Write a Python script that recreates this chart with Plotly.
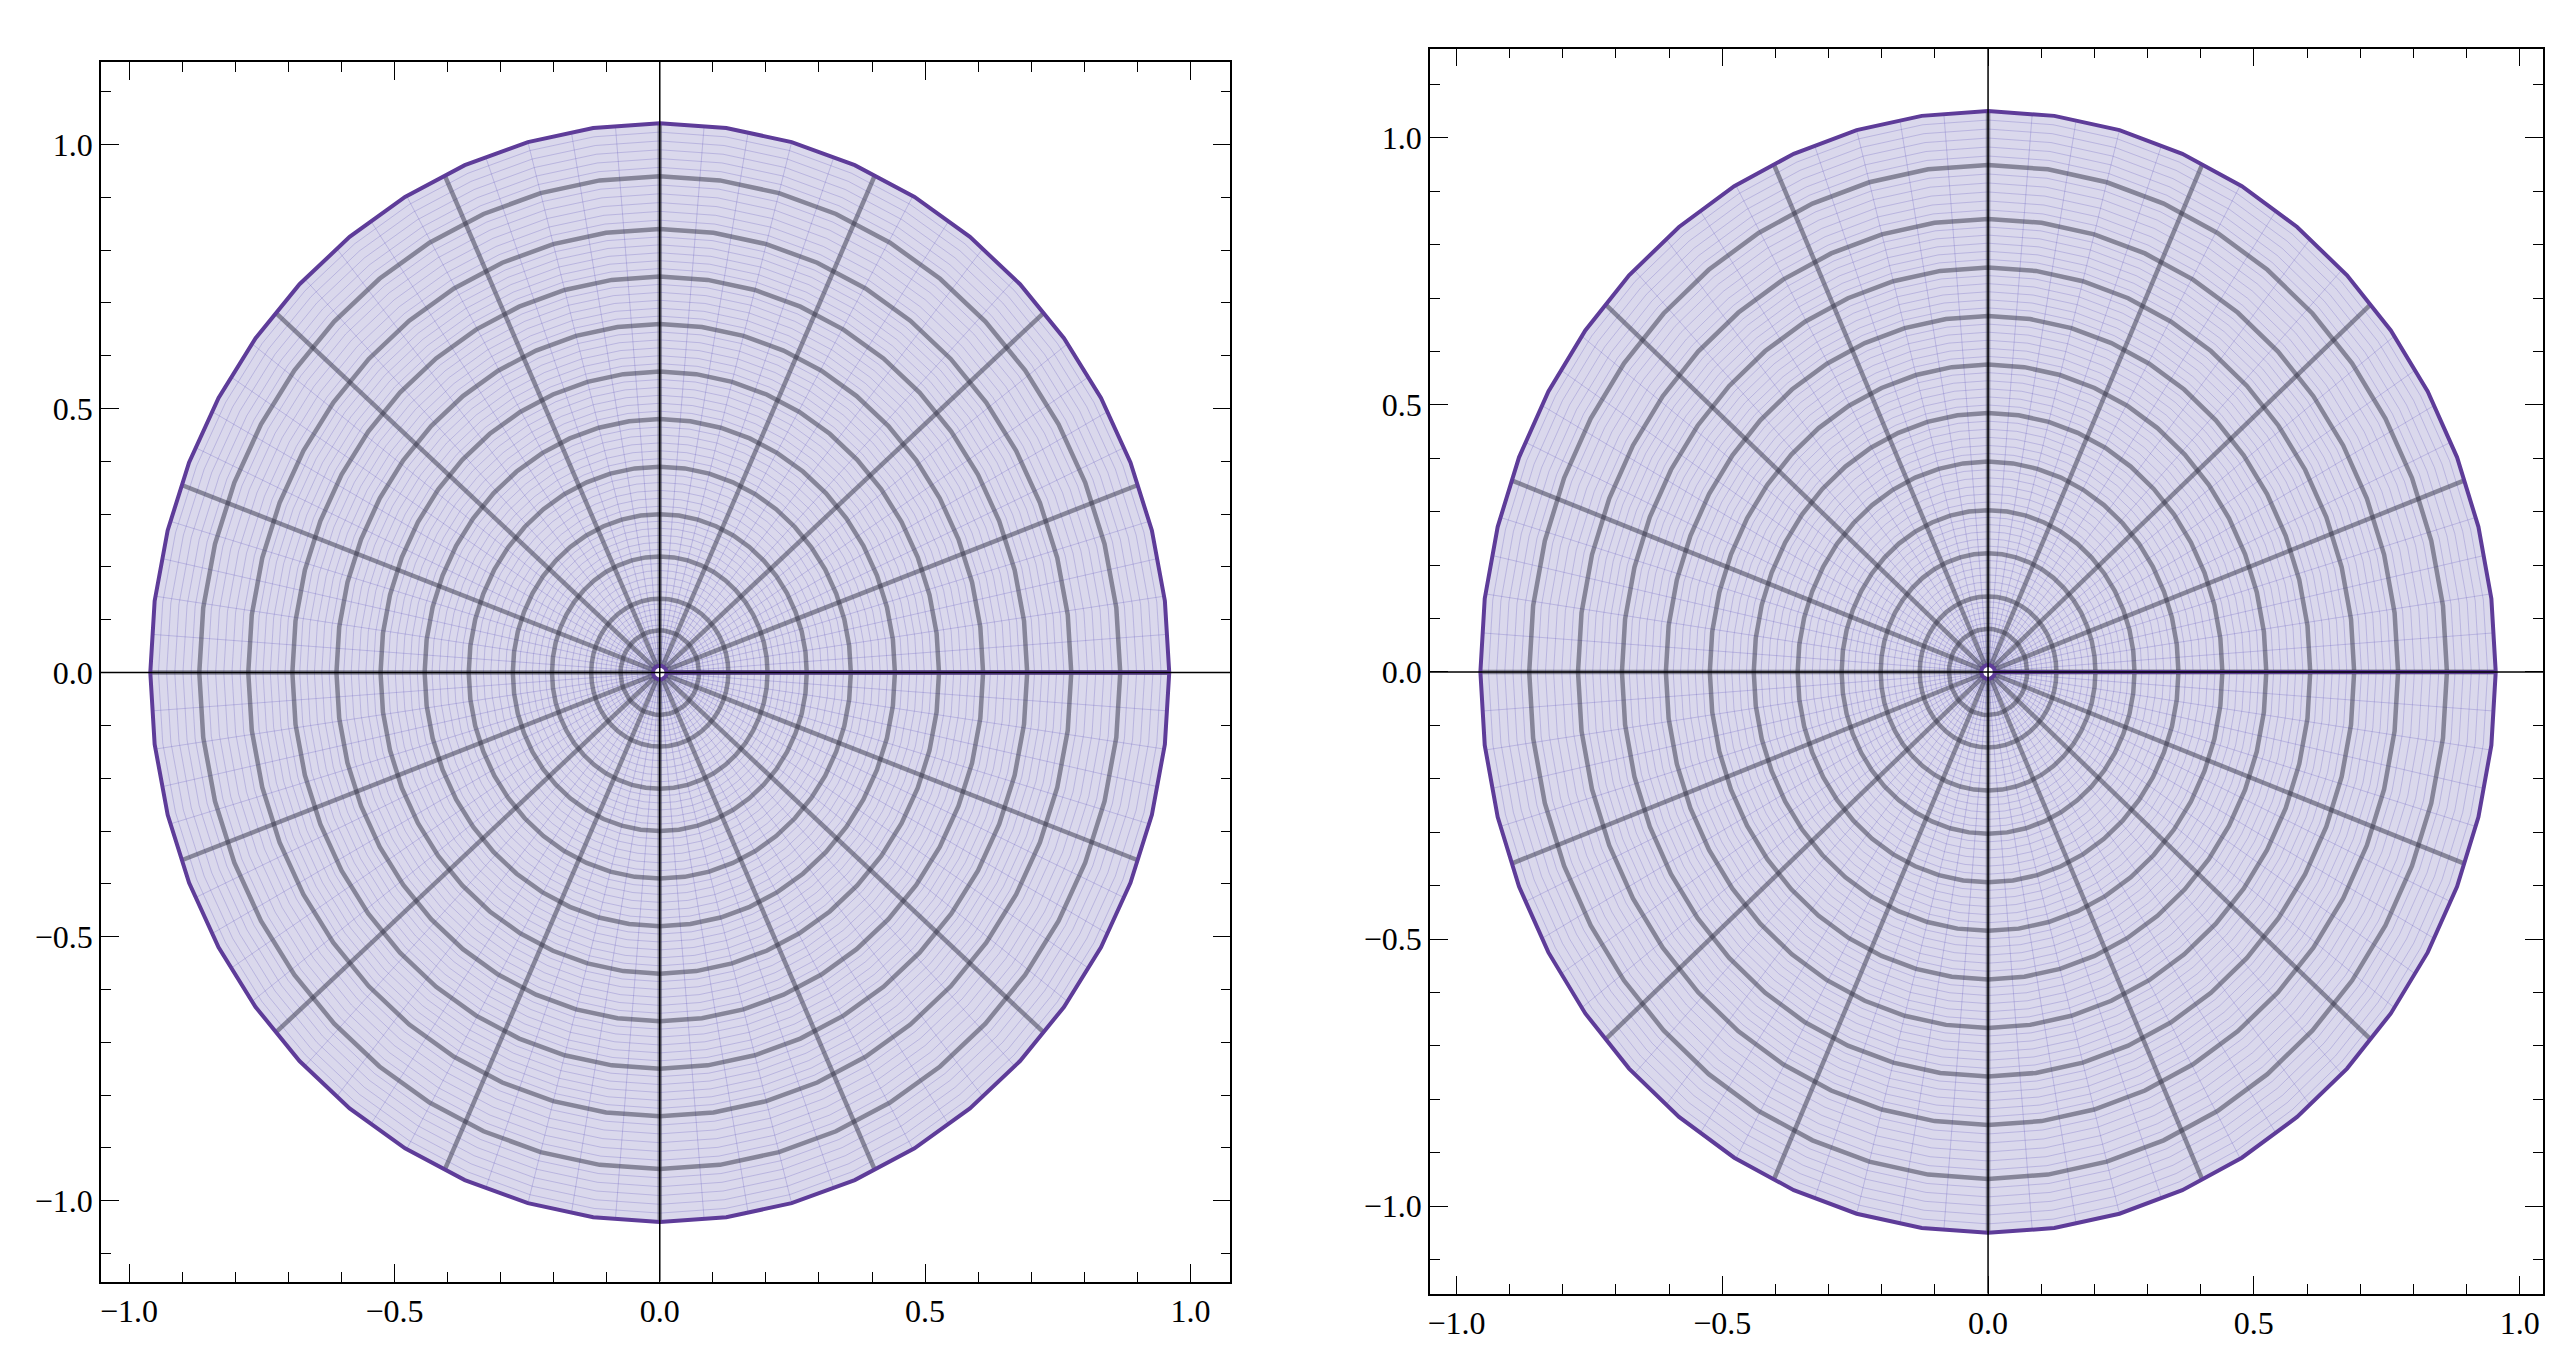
import numpy as np
import plotly.graph_objects as go

# Data
panels = ["left", "right"]
semi_x = [0.96, 0.955]          # horizontal half-extent of each disk
semi_y = [1.04, 1.05]           # vertical half-extent of each disk
thick_rings = [0.08, 0.14, 0.22, 0.30, 0.39, 0.48, 0.57, 0.66, 0.75, 0.84, 0.94]  # ring radii (y units, left panel)
quadrant_angles = [0, 20, 41, 65]   # thick radial directions within one quadrant (deg)
thick_angles_deg = sorted(set([q*90 + (a if q % 2 == 0 else 90 - a) for q in range(4) for a in quadrant_angles] +
                              [0, 90, 180, 270]))
x_ranges = [[-1.053, 1.075], [-1.05, 1.044]]
y_ranges = [[-1.153, 1.156], [-1.164, 1.167]]
tick_vals = [-1.0, -0.5, 0.0, 0.5, 1.0]
tick_text = ["\u22121.0", "\u22120.5", "0.0", "0.5", "1.0"]

fig = go.Figure()
PURPLE = "rgb(94,60,153)"
FILL = "rgb(218,216,236)"
THIN = "rgba(100,90,190,0.28)"
THICK = "rgba(50,50,70,0.5)"

def lines_xy(segs):
    xs, ys = [], []
    for sx, sy in segs:
        xs += list(sx) + [None]
        ys += list(sy) + [None]
    return xs, ys

# thin radials: 4 between each pair of thick radials
ta = thick_angles_deg + [360]
thin_angles_deg = []
for a, b in zip(ta[:-1], ta[1:]):
    for k in range(1, 5):
        thin_angles_deg.append(a + (b - a) * k / 5)

N = 48
for p in range(2):
    ax, ay = semi_x[p], semi_y[p]
    xa = "x" if p == 0 else "x2"
    ya = "y" if p == 0 else "y2"
    t = np.linspace(0, 2*np.pi, N+1)
    fig.add_trace(go.Scatter(x=ax*np.cos(t), y=ay*np.sin(t), fill="toself", fillcolor=FILL,
                             mode="none", xaxis=xa, yaxis=ya, hoverinfo="skip"))
    rfr = [r / semi_y[0] for r in thick_rings]
    all_r = [0.012] + rfr + [1.0]
    thin_r = []
    for a, b in zip(all_r[:-1], all_r[1:]):
        for k in range(1, 6):
            thin_r.append(a + (b - a) * k / 6)
    segs = [(ax*r*np.cos(t), ay*r*np.sin(t)) for r in thin_r]
    segs += [(ax*np.array([0.012, 1])*np.cos(np.radians(d)), ay*np.array([0.012, 1])*np.sin(np.radians(d)))
             for d in thin_angles_deg]
    xs, ys = lines_xy(segs)
    fig.add_trace(go.Scatter(x=xs, y=ys, mode="lines", line=dict(color=THIN, width=1),
                             xaxis=xa, yaxis=ya, hoverinfo="skip"))
    segs = [(ax*r*np.cos(t), ay*r*np.sin(t)) for r in rfr]
    segs += [(ax*np.array([0.012, 1])*np.cos(np.radians(d)), ay*np.array([0.012, 1])*np.sin(np.radians(d)))
             for d in thick_angles_deg]
    xs, ys = lines_xy(segs)
    fig.add_trace(go.Scatter(x=xs, y=ys, mode="lines", line=dict(color=THICK, width=4.5),
                             xaxis=xa, yaxis=ya, hoverinfo="skip"))
    fig.add_trace(go.Scatter(x=ax*np.cos(t), y=ay*np.sin(t), mode="lines", line=dict(color=PURPLE, width=4),
                             xaxis=xa, yaxis=ya, hoverinfo="skip"))
    fig.add_trace(go.Scatter(x=[0.012*ax, ax], y=[0, 0], mode="lines", line=dict(color=PURPLE, width=4),
                             xaxis=xa, yaxis=ya, hoverinfo="skip"))
    tc = np.linspace(0, 2*np.pi, 40)
    fig.add_trace(go.Scatter(x=0.013*np.cos(tc), y=0.013*np.sin(tc), mode="lines", fill="toself",
                             fillcolor="white", line=dict(color=PURPLE, width=4),
                             xaxis=xa, yaxis=ya, hoverinfo="skip"))
    fig.add_shape(type="line", x0=x_ranges[p][0], x1=x_ranges[p][1], y0=0, y1=0, xref=xa, yref=ya,
                  line=dict(color="black", width=1.5), layer="above")
    fig.add_shape(type="line", x0=0, x1=0, y0=y_ranges[p][0], y1=y_ranges[p][1], xref=xa, yref=ya,
                  line=dict(color="black", width=1.5), layer="above")

axis_common = dict(showgrid=False, zeroline=False, showline=True, linecolor="black", linewidth=1.5,
                   mirror="ticks", ticks="inside", ticklen=18, tickwidth=1.2, tickcolor="black",
                   tickvals=tick_vals, ticktext=tick_text,
                   minor=dict(ticks="inside", ticklen=10, dtick=0.1, tickcolor="black", tickwidth=1),
                   tickfont=dict(family="Liberation Serif", size=32, color="black"))

fig.update_layout(
    width=2571, height=1352, showlegend=False, plot_bgcolor="white", paper_bgcolor="white",
    margin=dict(l=0, r=0, t=0, b=0),
    xaxis=dict(domain=[0.0354, 0.475], range=x_ranges[0], anchor="y", **axis_common),
    yaxis=dict(domain=[0.058, 0.96], range=y_ranges[0], anchor="x", **axis_common),
    xaxis2=dict(domain=[0.5527, 0.986], range=x_ranges[1], anchor="y2", **axis_common),
    yaxis2=dict(domain=[0.049, 0.97], range=y_ranges[1], anchor="x2", **axis_common),
)
fig.write_html("out.html")
